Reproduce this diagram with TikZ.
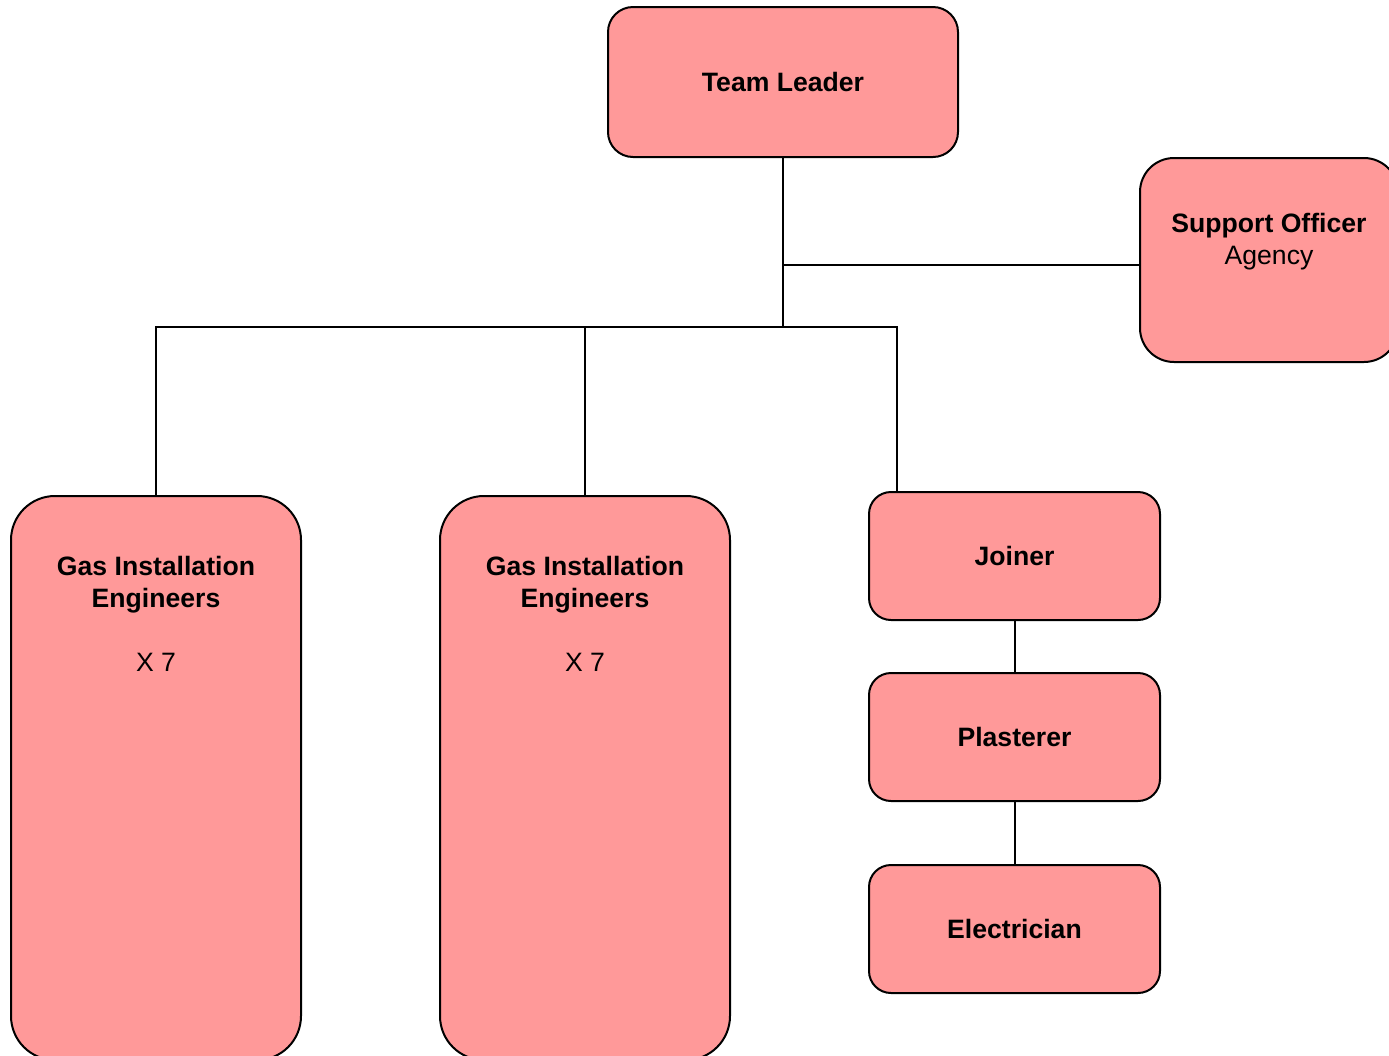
\documentclass[tikz,border=0pt]{standalone}
\usepackage{fontspec}
\setmainfont{Liberation Sans}
\usepackage{tikz}
\definecolor{box_red}{HTML}{FF9999}

\begin{document}
\begin{tikzpicture}[x = 0.5pt, y = -0.5pt, line width = 1pt,
    font = \fontsize{13.3}{16}\selectfont,
    box/.style = {draw, fill = box_red, align = center, inner sep = 0pt},
    role/.style = {box, rounded corners = 11pt, minimum width = 145.5pt, minimum height = 64pt}]
      \useasboundingbox (0,0) rectangle (1389,1056);

      \node[box, rounded corners = 12.5pt, minimum width = 175pt, minimum height = 75pt] (lead) at (783,82) {\textbf{Team Leader}};
      \node[box, rounded corners = 17pt] (support) at (1269,260)
        {\parbox[t][102pt][t]{129pt}{\centering\vspace*{27.5pt}\textbf{Support Officer}\\Agency}};

      \node[box, rounded corners = 22pt] (gasA) at (156,778)
        {\parbox[t][282pt][t]{145pt}{\centering\vspace*{30pt}\textbf{Gas Installation}\\\textbf{Engineers}\\[16pt]X 7}};
      \node[box, rounded corners = 22pt] (gasB) at (585,778)
        {\parbox[t][282pt][t]{145pt}{\centering\vspace*{30pt}\textbf{Gas Installation}\\\textbf{Engineers}\\[16pt]X 7}};

      \node[role] (joiner) at (1014.5,556) {\textbf{Joiner}};
      \node[role] (plast) at (1014.5,737) {\textbf{Plasterer}};
      \node[role] (elec) at (1014.5,929) {\textbf{Electrician}};

      \coordinate (hub) at (783,327);
      \coordinate (side) at (783,265);

      \draw (lead.south) -- (hub);
      \draw (side) -- (side -| support.west);
      \draw (gasA.north) |- (hub) -| ([xshift = 14.5pt]joiner.north west);
      \draw (gasB.north) -- (gasB.north |- hub);

      \draw (joiner) -- (plast);
      \draw (plast) -- (elec);
    \end{tikzpicture}
\end{document}
